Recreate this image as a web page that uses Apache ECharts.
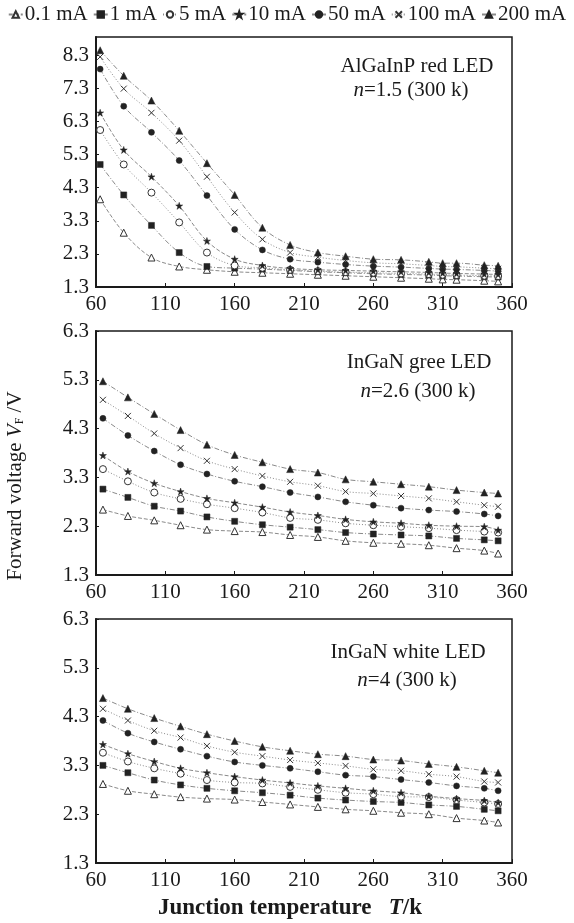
<!DOCTYPE html>
<html><head><meta charset="utf-8">
<script src="https://cdn.jsdelivr.net/npm/echarts@6/dist/echarts.min.js"></script>
<style>html,body{margin:0;padding:0;background:#fff}#c{width:574px;height:923px}</style>
</head><body><div id="c"></div>
<script>
const currents = ['0.1 mA', '1 mA', '5 mA', '10 mA', '50 mA', '100 mA', '200 mA'];
const xTicks = [60, 110, 160, 210, 260, 310, 360];

const xRed = [63, 80, 100, 120, 140, 160, 180, 200, 220, 240, 260, 280, 300, 310, 320, 340, 350];
const red_01 = [3.95, 2.94, 2.19, 1.92, 1.82, 1.76, 1.73, 1.7, 1.67, 1.64, 1.61, 1.58, 1.55, 1.53, 1.52, 1.49, 1.47];
const red_1 = [5.0, 4.08, 3.16, 2.34, 1.92, 1.87, 1.84, 1.8, 1.76, 1.73, 1.7, 1.68, 1.66, 1.64, 1.63, 1.61, 1.6];
const red_5 = [6.04, 5.0, 4.15, 3.25, 2.34, 1.95, 1.88, 1.82, 1.78, 1.75, 1.73, 1.71, 1.69, 1.67, 1.66, 1.64, 1.63];
const red_10 = [6.56, 5.44, 4.63, 3.75, 2.69, 2.14, 1.95, 1.86, 1.82, 1.8, 1.78, 1.76, 1.74, 1.72, 1.71, 1.69, 1.68];
const red_50 = [7.88, 6.76, 5.97, 5.12, 4.06, 3.04, 2.42, 2.14, 2.05, 1.98, 1.93, 1.9, 1.86, 1.84, 1.83, 1.8, 1.78];
const red_100 = [8.25, 7.29, 6.56, 5.72, 4.63, 3.55, 2.74, 2.34, 2.2, 2.1, 2.03, 2.0, 1.95, 1.92, 1.91, 1.87, 1.85];
const red_200 = [8.45, 7.68, 6.93, 6.02, 5.04, 4.08, 3.09, 2.57, 2.34, 2.23, 2.14, 2.12, 2.06, 2.02, 2.02, 1.96, 1.94];

const xGreen = [65, 83, 102, 121, 140, 160, 180, 200, 220, 240, 260, 280, 300, 320, 340, 350];
const green_01 = [2.64, 2.51, 2.42, 2.32, 2.23, 2.2, 2.18, 2.12, 2.08, 2.0, 1.96, 1.94, 1.91, 1.85, 1.8, 1.74];
const green_1 = [3.06, 2.89, 2.71, 2.61, 2.49, 2.4, 2.33, 2.28, 2.23, 2.17, 2.14, 2.12, 2.1, 2.05, 2.02, 2.0];
const green_5 = [3.47, 3.22, 2.99, 2.86, 2.75, 2.67, 2.58, 2.47, 2.43, 2.36, 2.32, 2.29, 2.26, 2.22, 2.19, 2.17];
const green_10 = [3.75, 3.42, 3.18, 3.01, 2.87, 2.78, 2.69, 2.59, 2.52, 2.44, 2.39, 2.36, 2.32, 2.3, 2.29, 2.22];
const green_50 = [4.51, 4.16, 3.84, 3.56, 3.37, 3.22, 3.11, 2.99, 2.9, 2.8, 2.73, 2.67, 2.63, 2.6, 2.55, 2.51];
const green_100 = [4.89, 4.56, 4.2, 3.9, 3.64, 3.47, 3.33, 3.21, 3.13, 3.01, 2.97, 2.92, 2.87, 2.8, 2.73, 2.7];
const green_200 = [5.27, 4.94, 4.6, 4.27, 3.97, 3.76, 3.61, 3.47, 3.4, 3.26, 3.21, 3.16, 3.11, 3.04, 2.99, 2.97];

const xWhite = [65, 83, 102, 121, 140, 160, 180, 200, 220, 240, 260, 280, 300, 320, 340, 350];
const white_01 = [2.92, 2.78, 2.71, 2.65, 2.62, 2.6, 2.55, 2.5, 2.45, 2.4, 2.37, 2.33, 2.3, 2.22, 2.17, 2.13];
const white_1 = [3.3, 3.15, 3.0, 2.9, 2.83, 2.78, 2.74, 2.69, 2.63, 2.59, 2.56, 2.54, 2.49, 2.46, 2.4, 2.37];
const white_5 = [3.56, 3.38, 3.24, 3.13, 3.0, 2.95, 2.93, 2.86, 2.8, 2.74, 2.71, 2.66, 2.65, 2.59, 2.54, 2.51];
const white_10 = [3.73, 3.54, 3.38, 3.24, 3.15, 3.07, 3.0, 2.94, 2.88, 2.83, 2.78, 2.74, 2.67, 2.62, 2.58, 2.54];
const white_50 = [4.22, 3.96, 3.78, 3.63, 3.49, 3.37, 3.3, 3.24, 3.17, 3.1, 3.07, 3.01, 2.95, 2.88, 2.83, 2.78];
const white_100 = [4.46, 4.22, 4.01, 3.87, 3.7, 3.57, 3.49, 3.41, 3.35, 3.29, 3.22, 3.19, 3.12, 3.07, 2.97, 2.95];
const white_200 = [4.68, 4.46, 4.27, 4.1, 3.94, 3.8, 3.68, 3.6, 3.53, 3.49, 3.42, 3.4, 3.33, 3.27, 3.19, 3.15];

const panels = [
  {xs: xRed, ys: [red_01, red_1, red_5, red_10, red_50, red_100, red_200], ymax: 8.85, title: 'AlGaInP red LED', sub: '=1.5 (300 k)'},
  {xs: xGreen, ys: [green_01, green_1, green_5, green_10, green_50, green_100, green_200], ymax: 6.3, title: 'InGaN gree LED', sub: '=2.6 (300 k)'},
  {xs: xWhite, ys: [white_01, white_1, white_5, white_10, white_50, white_100, white_200], ymax: 6.3, title: 'InGaN white LED', sub: '=4 (300 k)'}
];

const FONT = "'Liberation Serif','Times New Roman',serif";
const INK = '#1a1a1a';
const LINE = '#8a8a8a';
const STAR = 'path://M5,0L6.2,3.6L10,3.6L6.9,5.8L8.1,9.5L5,7.2L1.9,9.5L3.1,5.8L0,3.6L3.8,3.6Z';
const CROSS = 'path://M0,0L10,10M10,0L0,10';
const styles = [
  {symbol: 'triangle', size: 7, open: true, type: [4, 2]},
  {symbol: 'rect', size: 6, open: false, type: [5, 2, 1, 2]},
  {symbol: 'circle', size: 7, open: true, type: [1, 2]},
  {symbol: STAR, size: 7, open: false, type: [4, 2]},
  {symbol: 'circle', size: 6, open: false, type: [5, 2, 1, 2]},
  {symbol: CROSS, size: 6, open: true, cross: true, type: [1, 2]},
  {symbol: 'triangle', size: 7, open: false, type: [5, 2, 1, 2]}
];

const gridDefs = [
  {left: 96, top: 37, width: 416, height: 250},
  {left: 96, top: 331, width: 416, height: 244},
  {left: 96, top: 619, width: 416, height: 244}
];
const titlePos = [
  {x: 417, y: 66, x2: 411, y2: 90},
  {x: 419, y: 362, x2: 418, y2: 391},
  {x: 408, y: 652, x2: 407, y2: 680}
];

const grid = [], xAxis = [], yAxis = [], series = [], graphic = [];
panels.forEach((p, pi) => {
  grid.push(Object.assign({show: true, borderColor: INK, borderWidth: 1.5, backgroundColor: '#fff'}, gridDefs[pi]));
  xAxis.push({
    type: 'value', gridIndex: pi, min: 60, max: 360, interval: 50,
    axisLine: {show: true, lineStyle: {color: INK, width: 2}},
    axisTick: {show: true, inside: true, length: 4, lineStyle: {color: INK}},
    splitLine: {show: false},
    axisLabel: {color: INK, fontFamily: FONT, fontSize: 21, margin: 7}
  });
  yAxis.push({
    type: 'value', gridIndex: pi, min: 1.3, max: p.ymax, interval: 1,
    axisLine: {show: true, lineStyle: {color: INK, width: 2}},
    axisTick: {show: true, inside: true, length: 3, lineStyle: {color: INK}},
    splitLine: {show: false},
    axisLabel: {color: INK, fontFamily: FONT, fontSize: 21, margin: 7,
      showMaxLabel: pi !== 0, formatter: v => v.toFixed(1)}
  });
  p.ys.forEach((vals, si) => {
    const st = styles[si];
    series.push({
      type: 'line', name: currents[si], xAxisIndex: pi, yAxisIndex: pi,
      data: p.xs.map((x, k) => [x, vals[k]]),
      smooth: 0.35, symbol: st.symbol, symbolSize: st.size, showAllSymbol: true,
      itemStyle: st.open
        ? {color: st.cross ? INK : '#fff', borderColor: '#333', borderWidth: 1}
        : {color: '#222', borderColor: '#222', borderWidth: 0.5},
      lineStyle: {color: LINE, width: 1, type: st.type},
      emphasis: {disabled: true}
    });
  });
  const tp = titlePos[pi];
  graphic.push({type: 'text', x: tp.x, y: tp.y, style: {text: p.title, font: `21px ${FONT}`, fill: INK, align: 'center', verticalAlign: 'middle'}});
  graphic.push({type: 'text', x: tp.x2, y: tp.y2, style: {
    text: '{i|n}{r|' + p.sub + '}', align: 'center', verticalAlign: 'middle', fill: INK,
    rich: {i: {font: `italic 21px ${FONT}`, fill: INK}, r: {font: `21px ${FONT}`, fill: INK}}
  }});
});

graphic.push({type: 'text', x: 15, y: 486, rotation: Math.PI / 2, style: {
  text: '{n|Forward voltage }{i|V}{s|F}{n| /V}', align: 'center', verticalAlign: 'middle',
  rich: {n: {font: `21px ${FONT}`, fill: INK},
         i: {font: `italic 21px ${FONT}`, fill: INK},
         s: {font: `12px ${FONT}`, fill: INK, padding: [9, 0, 0, 0]}}
}});
graphic.push({type: 'text', x: 290, y: 908, style: {
  text: '{b|Junction temperature   }{i|T}{b|/k}', align: 'center', verticalAlign: 'middle',
  rich: {b: {font: `bold 23px ${FONT}`, fill: INK}, i: {font: `italic bold 23px ${FONT}`, fill: INK}}
}});

const chart = echarts.init(document.getElementById('c'), null, {renderer: 'canvas'});
chart.setOption({
  animation: false,
  backgroundColor: '#fff',
  legend: {
    top: 4, left: 'center', width: 574, padding: 0, data: currents, itemWidth: 14, itemHeight: 8, itemGap: 5,
    textStyle: {fontFamily: FONT, fontSize: 21, color: INK, padding: [0, 0, 0, -3]}
  },
  grid, xAxis, yAxis, series, graphic
});
</script></body></html>
